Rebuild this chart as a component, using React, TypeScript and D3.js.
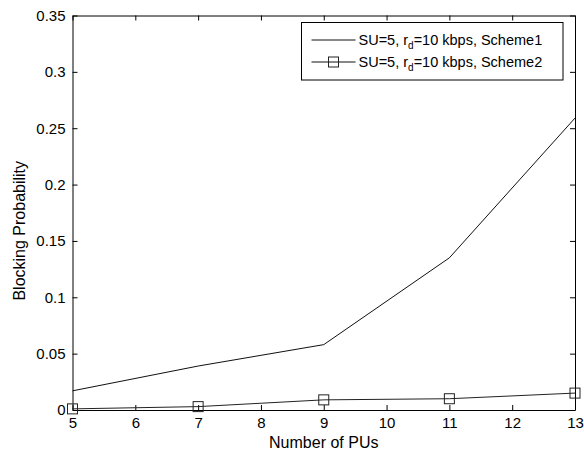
import React, { useEffect, useRef } from 'react';
import * as d3 from 'd3';

const pus = [5, 7, 9, 11, 13];
const scheme1 = [0.017, 0.039, 0.058, 0.135, 0.259];
const scheme2 = [0.001, 0.003, 0.009, 0.010, 0.015];
const xTicks = [5, 6, 7, 8, 9, 10, 11, 12, 13];
const yTicks = [0, 0.05, 0.1, 0.15, 0.2, 0.25, 0.3, 0.35];

const width = 584;
const height = 451;
const margin = { top: 15.5, right: 9, bottom: 41, left: 72.5 };
const font = 'Liberation Sans, Arial, sans-serif';

const App = () => {
  const ref = useRef(null);

  useEffect(() => {
    const innerWidth = width - margin.left - margin.right;
    const innerHeight = height - margin.top - margin.bottom;
    const root = d3.select(ref.current);
    root.selectAll('*').remove();

    const x = d3.scaleLinear().domain([5, 13]).range([0, innerWidth]);
    const y = d3.scaleLinear().domain([0, 0.35]).range([innerHeight, 0]);

    const svg = root.append('g').attr('transform', `translate(${margin.left},${margin.top})`);

    const fmt = (d) => String(+d.toFixed(2));

    // axes, ticks pointing inwards
    const bottom = svg.append('g').attr('transform', `translate(0,${innerHeight})`)
      .call(d3.axisBottom(x).tickValues(xTicks).tickSize(-5).tickSizeOuter(0).tickPadding(7));
    const left = svg.append('g')
      .call(d3.axisLeft(y).tickValues(yTicks).tickSize(-5).tickSizeOuter(0).tickPadding(7).tickFormat(fmt));
    const top = svg.append('g')
      .call(d3.axisTop(x).tickValues(xTicks).tickSize(-5).tickSizeOuter(0).tickFormat(() => ''));
    const right = svg.append('g').attr('transform', `translate(${innerWidth},0)`)
      .call(d3.axisRight(y).tickValues(yTicks).tickSize(-5).tickSizeOuter(0).tickFormat(() => ''));

    [bottom, left, top, right].forEach((g) => {
      g.selectAll('path').attr('stroke', '#000').attr('stroke-width', 1);
      g.selectAll('line').attr('stroke', '#000');
      g.selectAll('text').attr('font-family', font).attr('font-size', 15).attr('fill', '#000');
    });

    // lines
    const line = d3.line().x((d) => x(d[0])).y((d) => y(d[1]));
    svg.append('path')
      .attr('d', line(pus.map((p, i) => [p, scheme1[i]])))
      .attr('fill', 'none').attr('stroke', '#111').attr('stroke-width', 1);
    svg.append('path')
      .attr('d', line(pus.map((p, i) => [p, scheme2[i]])))
      .attr('fill', 'none').attr('stroke', '#222').attr('stroke-width', 1);
    svg.selectAll('.sq').data(pus.map((p, i) => [p, scheme2[i]])).join('rect')
      .attr('x', (d) => x(d[0]) - 5).attr('y', (d) => y(d[1]) - 5)
      .attr('width', 10).attr('height', 10)
      .attr('fill', 'none').attr('stroke', '#222').attr('stroke-width', 1);

    // axis labels
    svg.append('text').attr('x', innerWidth / 2).attr('y', innerHeight + 37.5)
      .attr('text-anchor', 'middle').attr('font-family', font).attr('font-size', 16)
      .text('Number of PUs');
    svg.append('text').attr('transform', `translate(${-48},${innerHeight / 2 + 18}) rotate(-90)`)
      .attr('text-anchor', 'middle').attr('font-family', font).attr('font-size', 16)
      .text('Blocking Probability');

    // legend
    const lg = root.append('g').attr('transform', 'translate(301.5,22.5)');
    lg.append('rect').attr('width', 261.5).attr('height', 57.5)
      .attr('fill', '#fff').attr('stroke', '#000').attr('stroke-width', 1);
    const entries = ['Scheme1', 'Scheme2'];
    entries.forEach((s, i) => {
      const cy = 17.5 + i * 22;
      lg.append('line').attr('x1', 10).attr('x2', 54).attr('y1', cy).attr('y2', cy)
        .attr('stroke', '#111');
      if (i === 1) {
        lg.append('rect').attr('x', 27).attr('y', cy - 5).attr('width', 10).attr('height', 10)
          .attr('fill', 'none').attr('stroke', '#222');
      }
      const t = lg.append('text').attr('x', 57).attr('y', cy + 5)
        .attr('font-family', font).attr('font-size', 14.5);
      t.append('tspan').text('SU=5, r');
      t.append('tspan').attr('font-size', 10).attr('dy', 4).text('d');
      t.append('tspan').attr('dy', -4).text(`=10 kbps, ${s}`);
    });
  }, []);

  return (
    <svg ref={ref} width={width} height={height}
      style={{ position: 'absolute', left: 0, top: 0, background: '#fff' }} />
  );
};

export default App;
